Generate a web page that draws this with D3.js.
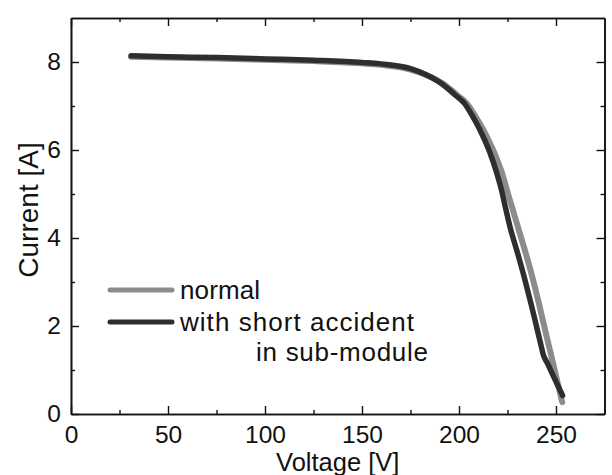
<!DOCTYPE html>
<html>
<head>
<meta charset="utf-8">
<script src="https://cdn.jsdelivr.net/npm/d3@7"></script>
<style>
  html, body { margin: 0; padding: 0; background: #fff; }
  svg { display: block; font-family: "Liberation Sans", Arial, sans-serif; }
</style>
</head>
<body>
<svg id="chart" width="612" height="475"></svg>
<script>
// I–V curves of the PV string: voltage [V], current [A]
const normalV   = [31, 50, 75, 100, 125, 150, 165, 175, 183.5, 192, 199, 204, 208, 212, 215.5, 218.3, 222, 225.3, 226.8, 230.7, 234.5, 238, 241.2, 243.9, 246.5, 249.4, 251.7, 253.2];
const normalI   = [8.12, 8.10, 8.08, 8.05, 8.02, 7.97, 7.91, 7.83, 7.70, 7.50, 7.25, 7.06, 6.80, 6.50, 6.20, 5.93, 5.50, 5.00, 4.78, 4.20, 3.64, 3.08, 2.51, 2.00, 1.52, 0.98, 0.55, 0.27];
const accidentV = [31, 50, 75, 100, 125, 150, 165, 175, 183, 191.3, 198, 202.8, 206.6, 210.3, 213.5, 216, 219.3, 222.4, 223.5, 226.6, 230.3, 233.8, 237.1, 239.9, 242.5, 243.3, 245.6, 247.4, 250.9, 253.4];
const accidentI = [8.14, 8.12, 8.10, 8.07, 8.04, 7.99, 7.93, 7.85, 7.71, 7.50, 7.25, 7.06, 6.80, 6.50, 6.20, 5.93, 5.50, 5.00, 4.78, 4.20, 3.64, 3.08, 2.51, 2.00, 1.52, 1.37, 1.15, 0.98, 0.65, 0.42];

const xMajor = [0, 50, 100, 150, 200, 250];
const xMinor = [25, 75, 125, 175, 225];
const yMajor = [0, 2, 4, 6, 8];
const yMinor = [1, 3, 5, 7];

const legendLabels = ["normal", "with short accident", "in sub-module"];
const xTitle = "Voltage [V]";
const yTitle = "Current [A]";

const svg = d3.select("#chart");
const L = 71, R = 604.5, T = 18, B = 414;

const x = d3.scaleLinear().domain([0, 275]).range([L, R]);
const y = d3.scaleLinear().domain([0, 9]).range([B, T]);

const fmt = d3.format("d");

// axes with inward ticks on all four sides
function styleAxis(g) {
  g.selectAll("path.domain").attr("stroke", "#111").attr("stroke-width", 1.6);
  g.selectAll(".tick line").attr("stroke", "#111").attr("stroke-width", 1.4);
  g.selectAll("text").attr("fill", "#111").attr("font-size", 24.5);
}

svg.append("g").attr("transform", `translate(0,${B})`)
  .call(d3.axisBottom(x).tickValues(xMajor).tickFormat(fmt).tickSizeInner(-8).tickSizeOuter(0).tickPadding(12))
  .call(styleAxis);
svg.append("g").attr("transform", `translate(0,${B})`)
  .call(d3.axisBottom(x).tickValues(xMinor).tickFormat("").tickSizeInner(-4).tickSizeOuter(0))
  .call(styleAxis);
svg.append("g").attr("transform", `translate(0,${T})`)
  .call(d3.axisTop(x).tickValues(xMajor).tickFormat("").tickSizeInner(-8).tickSizeOuter(0))
  .call(styleAxis);
svg.append("g").attr("transform", `translate(0,${T})`)
  .call(d3.axisTop(x).tickValues(xMinor).tickFormat("").tickSizeInner(-4).tickSizeOuter(0))
  .call(styleAxis);

svg.append("g").attr("transform", `translate(${L},0)`)
  .call(d3.axisLeft(y).tickValues(yMajor).tickFormat(fmt).tickSizeInner(-8).tickSizeOuter(0).tickPadding(10))
  .call(styleAxis);
svg.append("g").attr("transform", `translate(${L},0)`)
  .call(d3.axisLeft(y).tickValues(yMinor).tickFormat("").tickSizeInner(-4).tickSizeOuter(0))
  .call(styleAxis);
svg.append("g").attr("transform", `translate(${R},0)`)
  .call(d3.axisRight(y).tickValues(yMajor).tickFormat("").tickSizeInner(-8).tickSizeOuter(0))
  .call(styleAxis);
svg.append("g").attr("transform", `translate(${R},0)`)
  .call(d3.axisRight(y).tickValues(yMinor).tickFormat("").tickSizeInner(-4).tickSizeOuter(0))
  .call(styleAxis);

// axis titles
svg.append("text")
  .attr("x", (L + R) / 2).attr("y", 470.5)
  .attr("text-anchor", "middle").attr("font-size", 25.5).attr("fill", "#111")
  .text(xTitle);
svg.append("text")
  .attr("transform", `translate(38,${(T + B) / 2 - 6}) rotate(-90)`)
  .attr("text-anchor", "middle").attr("font-size", 28).attr("fill", "#111")
  .text(yTitle);

// curves
const line = d3.line().x(d => x(d[0])).y(d => y(d[1])).curve(d3.curveMonotoneX);
const normalPts = normalV.map((v, i) => [v, normalI[i]]);
const accidentPts = accidentV.map((v, i) => [v, accidentI[i]]);

svg.append("path").datum(normalPts)
  .attr("d", line).attr("fill", "none")
  .attr("stroke", "#8c8c8c").attr("stroke-width", 6)
  .attr("stroke-linejoin", "round").attr("stroke-linecap", "round");
svg.append("path").datum(accidentPts)
  .attr("d", line).attr("fill", "none")
  .attr("stroke", "#2e2e2e").attr("stroke-width", 5.5)
  .attr("stroke-linejoin", "round").attr("stroke-linecap", "round");

// legend
const lg = svg.append("g");
lg.append("line").attr("x1", 110).attr("x2", 172).attr("y1", 290).attr("y2", 290)
  .attr("stroke", "#8c8c8c").attr("stroke-width", 5).attr("stroke-linecap", "round");
lg.append("line").attr("x1", 110).attr("x2", 172).attr("y1", 322).attr("y2", 322)
  .attr("stroke", "#2e2e2e").attr("stroke-width", 5).attr("stroke-linecap", "round");
lg.append("text").attr("x", 180).attr("y", 299).attr("font-size", 26).attr("fill", "#111")
  .attr("textLength", 80).attr("lengthAdjust", "spacing").text(legendLabels[0]);
lg.append("text").attr("x", 180).attr("y", 331).attr("font-size", 26).attr("fill", "#111")
  .attr("textLength", 234).attr("lengthAdjust", "spacing").text(legendLabels[1]);
lg.append("text").attr("x", 256).attr("y", 361).attr("font-size", 26).attr("fill", "#111")
  .attr("textLength", 172).attr("lengthAdjust", "spacing").text(legendLabels[2]);
</script>
</body>
</html>
